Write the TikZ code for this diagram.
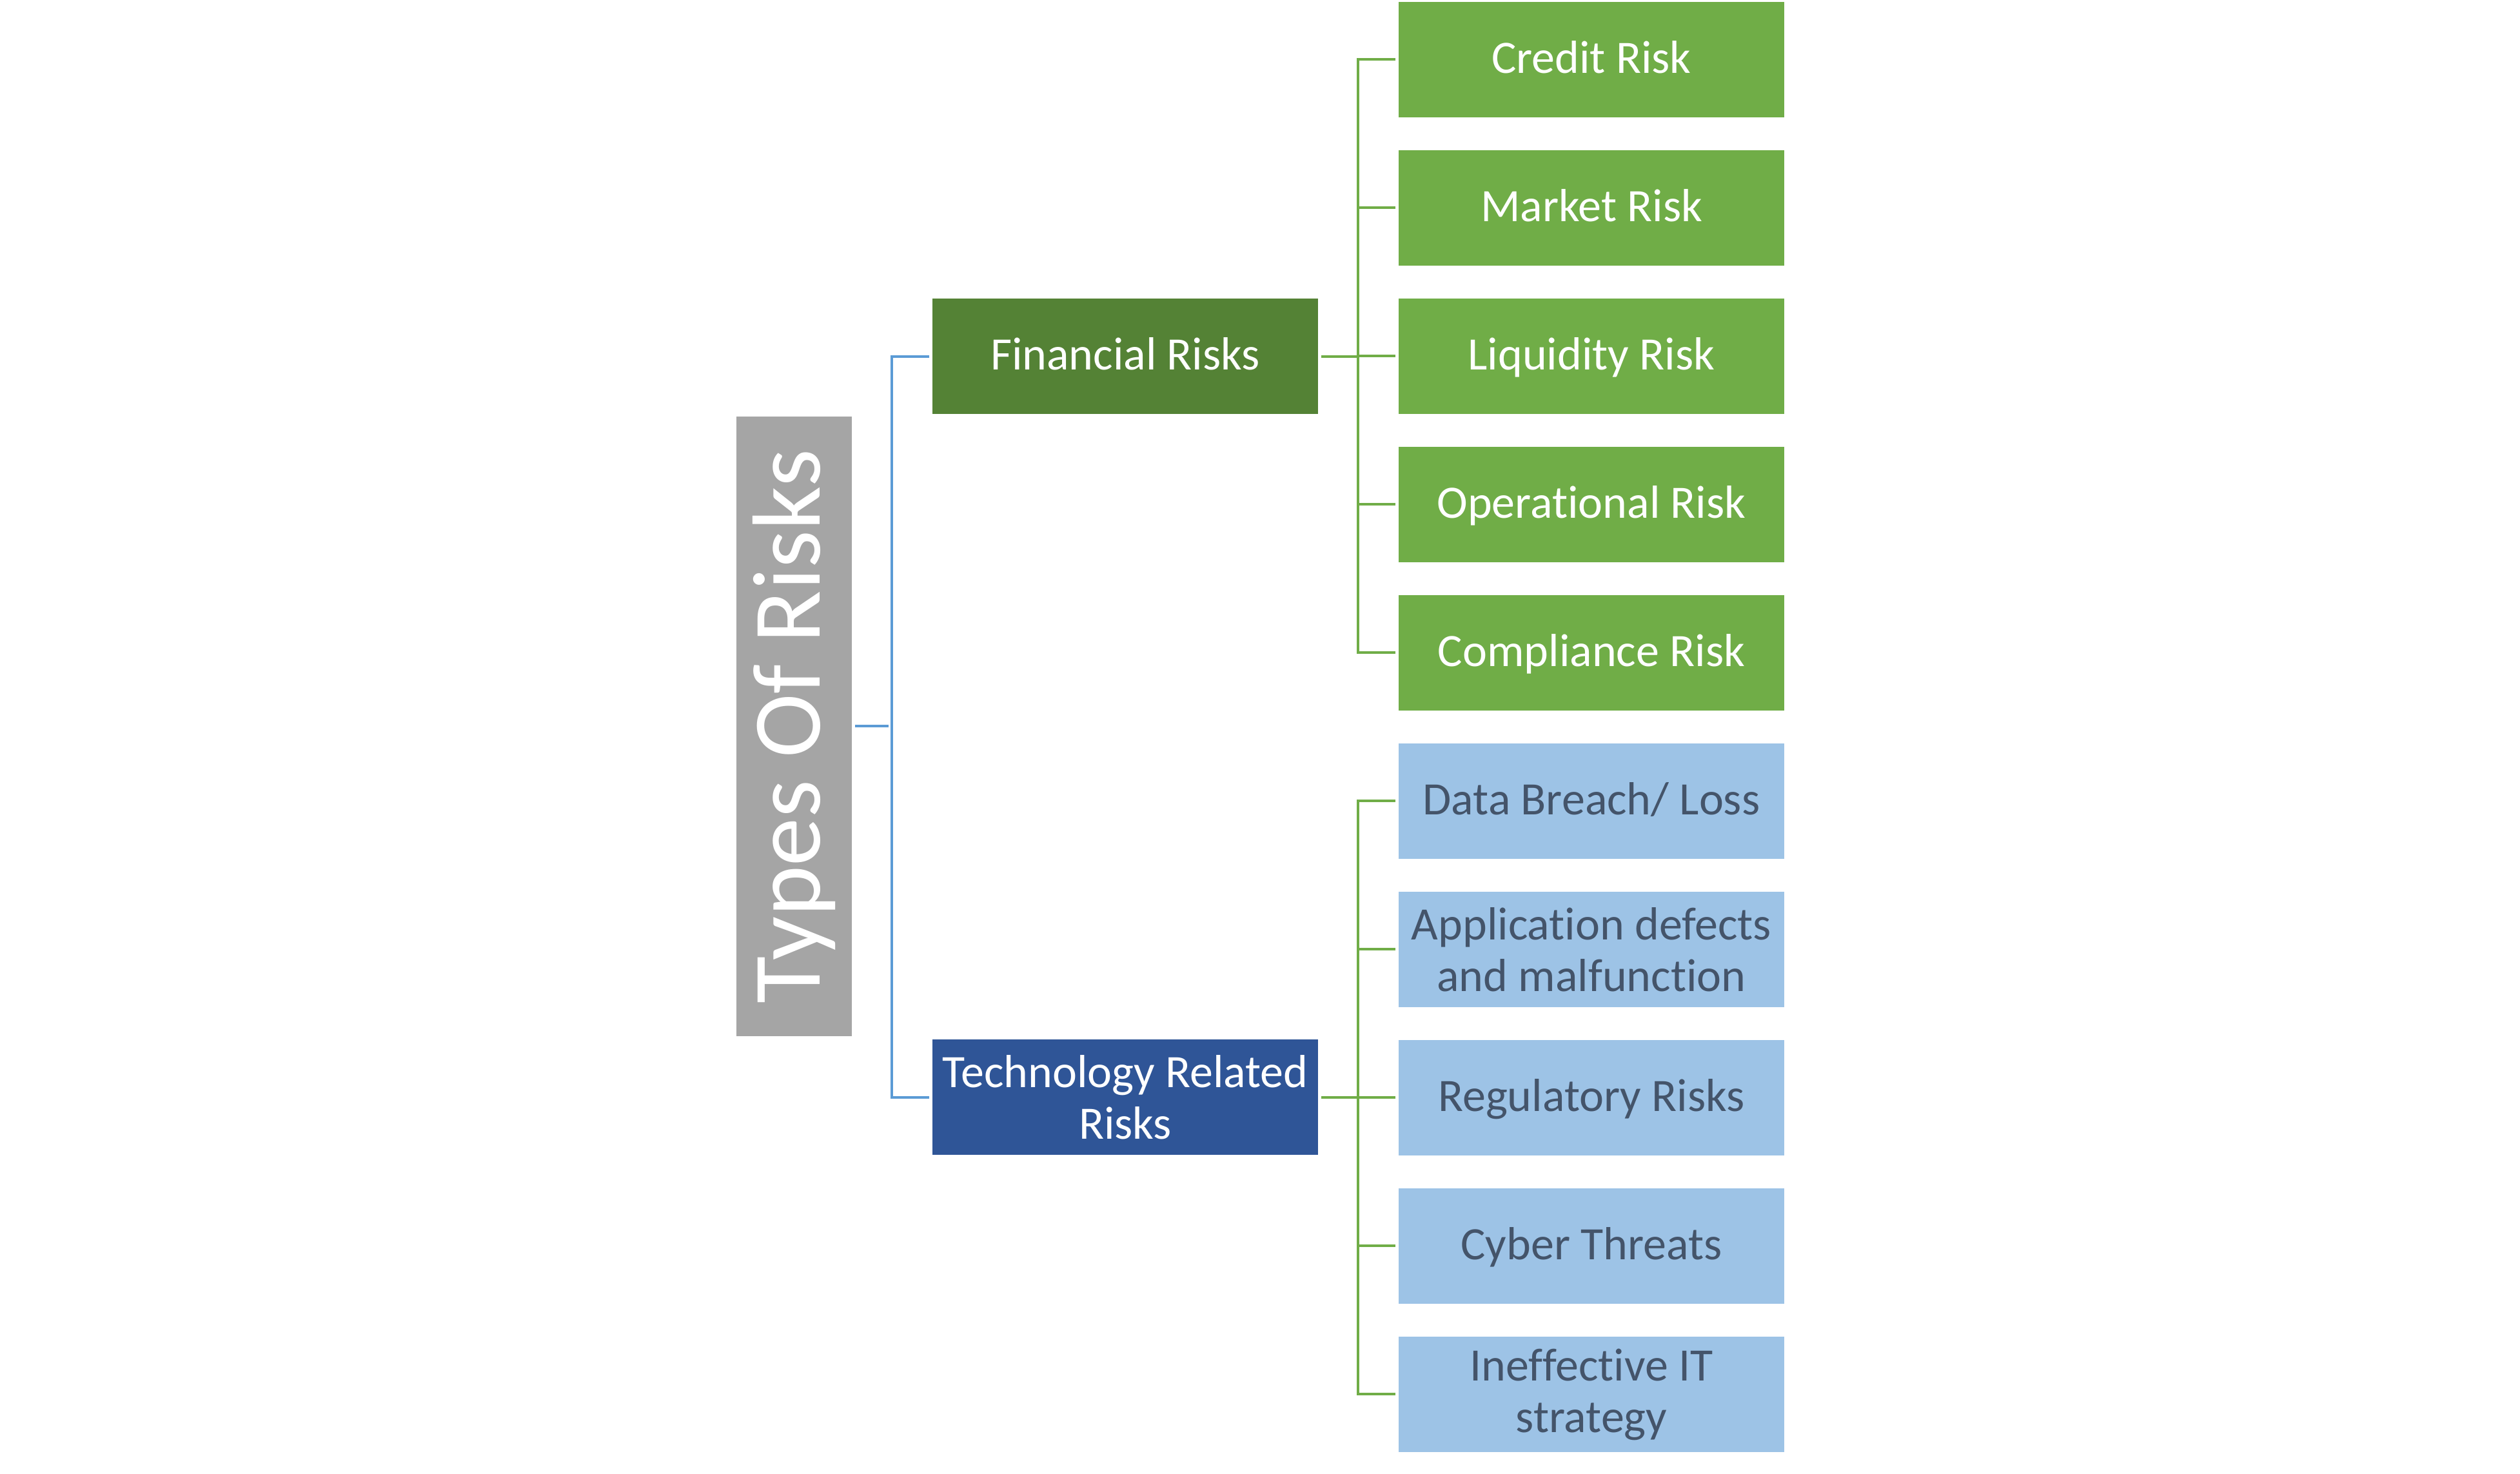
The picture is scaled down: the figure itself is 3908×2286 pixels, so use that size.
\documentclass[tikz,border=0pt]{standalone}
\usepackage{fontspec}
\setmainfont{Carlito}[Ligatures=NoCommon]
\definecolor{titlegray}{HTML}{A5A5A5}
\definecolor{fingreen}{HTML}{548235}
\definecolor{leafgreen}{HTML}{70AD47}
\definecolor{techblue}{HTML}{2F5597}
\definecolor{leafblue}{HTML}{9DC3E6}
\definecolor{slatetext}{HTML}{44546A}
\definecolor{lineblue}{HTML}{5B9BD5}
\tikzset{
  boxbase/.style={rectangle, inner sep=0pt, outer sep=0pt,
    minimum width=119.6pt, minimum height=35.8pt, align=center,
    font=\fontsize{14.4}{16}\selectfont},
  oneline/.style={text height=11pt, text depth=2.6pt},
  finbox/.style={boxbase, fill=fingreen, text=white},
  techbox/.style={boxbase, fill=techblue, text=white},
  finleaf/.style={boxbase, fill=leafgreen, text=white},
  techleaf/.style={boxbase, fill=leafblue, text=slatetext},
  titlebox/.style={rectangle, inner sep=0pt, outer sep=0pt, fill=titlegray,
    text=white, rotate=90, minimum width=192.2pt, minimum height=35.8pt,
    font=\fontsize{30}{36}\selectfont},
  bline/.style={draw=lineblue, line width=0.8pt, shorten <=1pt, shorten >=1pt},
  gline/.style={draw=leafgreen, line width=0.8pt},
}
\begin{document}
\begin{tikzpicture}[x=0.2pt, y=-0.2pt]
\useasboundingbox (0,0) rectangle (3908,2286);
% title
\node[titlebox] (title) at (1231.5,1126.5) {Types Of Risks};
% level 1
\node[finbox, oneline] (fin) at (1745,553) {Financial Risks};
\node[techbox] (tech) at (1745,1702) {Technology Related\\Risks};
% financial leaves
\node[finleaf, oneline] (c1) at (2468,92.5) {Credit Risk};
\node[finleaf, oneline] (c2) at (2468,322.5) {Market Risk};
\node[finleaf, oneline] (c3) at (2468,552.5) {Liquidity Risk};
\node[finleaf, oneline] (c4) at (2468,782.5) {Operational Risk};
\node[finleaf, oneline] (c5) at (2468,1012.5) {Compliance Risk};
% technology leaves
\node[techleaf, oneline] (t1) at (2468,1242.5) {Data Breach/ Loss};
\node[techleaf] (t2) at (2468,1472.5) {Application defects\\and malfunction};
\node[techleaf, oneline] (t3) at (2468,1702.5) {Regulatory Risks};
\node[techleaf, oneline] (t4) at (2468,1932.5) {Cyber Threats};
\node[techleaf] (t5) at (2468,2162.5) {Ineffective IT\\strategy};
% junction coordinates
\coordinate (bj) at (1383,1126.5);
\coordinate (gf) at (2106,553);
\coordinate (gt) at (2106,1702);
% blue connectors
\draw[bline] (title.south) -- (bj);
\draw[bline] (fin.west) -| (bj) |- (tech.west);
% green connectors (financial)
\draw[gline, shorten <=1pt] (fin.east) -- (gf);
\foreach \n in {c1,c2,c3,c4,c5}
  \draw[gline, shorten >=1pt] (gf) |- (\n.west);
% green connectors (technology)
\draw[gline, shorten <=1pt] (tech.east) -- (gt);
\foreach \n in {t1,t2,t3,t4,t5}
  \draw[gline, shorten >=1pt] (gt) |- (\n.west);
\end{tikzpicture}
\end{document}
